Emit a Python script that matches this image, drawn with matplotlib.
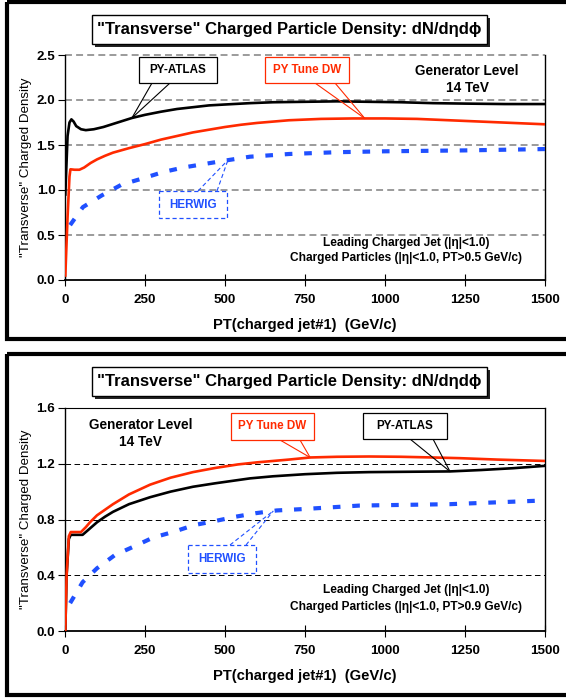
import numpy as np
import matplotlib
matplotlib.use("Agg")
import matplotlib.pyplot as plt
from matplotlib.patches import Rectangle
from matplotlib.lines import Line2D
import matplotlib.transforms as mtrans

plt.rcParams['font.family'] = ['Liberation Sans', 'DejaVu Sans']
plt.rcParams['lines.scale_dashes'] = False

W, H = 566, 698

# ---------------- data ----------------
x_ticks = [0, 250, 500, 750, 1000, 1250, 1500]

top_atlas_x = [1, 8, 14, 20, 27, 35, 50, 65, 90, 120, 160, 209, 250, 300, 350, 400, 450, 500, 578, 650,
               750, 850, 950, 1050, 1150, 1250, 1375, 1500]
top_atlas_y = [0.95, 1.6, 1.75, 1.785, 1.76, 1.71, 1.675, 1.665, 1.675, 1.70, 1.745, 1.80, 1.835, 1.87, 1.90,
               1.92, 1.94, 1.95, 1.965, 1.975, 1.98, 1.985, 1.98, 1.975, 1.965, 1.96, 1.955, 1.955]
top_dw_x = [1, 8, 14, 17, 30, 45, 60, 80, 100, 125, 150, 200, 250, 300, 350, 400, 450, 500, 550, 600, 700,
            800, 900, 1000, 1100, 1200, 1300, 1400, 1500]
top_dw_y = [0.05, 0.7, 1.15, 1.23, 1.225, 1.225, 1.25, 1.30, 1.34, 1.38, 1.415, 1.465, 1.51, 1.56, 1.60, 1.64,
            1.67, 1.70, 1.725, 1.745, 1.775, 1.79, 1.795, 1.795, 1.79, 1.775, 1.76, 1.745, 1.73]
top_hw_x = [16, 56, 115, 177, 244, 307, 370, 437, 506, 578, 700, 850, 1000, 1250, 1500]
top_hw_y = [0.61, 0.81, 0.94, 1.06, 1.13, 1.20, 1.25, 1.29, 1.33, 1.37, 1.40, 1.42, 1.43, 1.44, 1.455]

bot_atlas_x = [1, 5, 12, 18, 35, 55, 70, 80, 100, 125, 150, 200, 266, 330, 400, 470, 578, 650, 750, 850,
               950, 1050, 1203, 1300, 1400, 1500]
bot_atlas_y = [0.0, 0.4, 0.66, 0.69, 0.69, 0.69, 0.72, 0.74, 0.78, 0.82, 0.855, 0.91, 0.96, 1.00, 1.035,
               1.06, 1.095, 1.11, 1.125, 1.135, 1.14, 1.142, 1.145, 1.155, 1.168, 1.185]
bot_dw_x = [1, 5, 12, 18, 35, 50, 65, 78, 100, 125, 150, 200, 266, 330, 400, 470, 540, 600, 700, 766, 850,
            950, 1050, 1150, 1234, 1350, 1500]
bot_dw_y = [0.0, 0.4, 0.68, 0.71, 0.71, 0.71, 0.745, 0.78, 0.83, 0.87, 0.91, 0.98, 1.05, 1.10, 1.14, 1.17,
            1.195, 1.21, 1.23, 1.245, 1.25, 1.252, 1.25, 1.245, 1.24, 1.23, 1.22]
bot_hw_x = [16, 55, 100, 156, 219, 275, 337, 404, 471, 533, 595, 662, 745, 921, 1203, 1480]
bot_hw_y = [0.20, 0.35, 0.45, 0.545, 0.61, 0.67, 0.71, 0.76, 0.79, 0.82, 0.845, 0.865, 0.875, 0.90, 0.91, 0.935]

title_text = '"Transverse" Charged Particle Density: dN/d\u03b7d\u03d5'
xlabel_text = 'PT(charged jet#1)  (GeV/c)'
ylabel_text = '"Transverse" Charged Density'
top_note = ['Leading Charged Jet (|\u03b7|<1.0)', 'Charged Particles (|\u03b7|<1.0, PT>0.5 GeV/c)']
bot_note = ['Leading Charged Jet (|\u03b7|<1.0)', 'Charged Particles (|\u03b7|<1.0, PT>0.9 GeV/c)']

BLACK = '#000000'
RED = '#ff2a00'
BLUE = '#2050ff'

fig = plt.figure(figsize=(W / 100, H / 100), dpi=100)
PX = mtrans.Affine2D().scale(1 / W, -1 / H).translate(0, 1) + fig.transFigure


def axes_px(l, t, r, b):
    return fig.add_axes([l / W, 1 - b / H, (r - l) / W, (b - t) / H])


def to_px(ax, x, y):
    d = ax.transData.transform((x, y))
    return d[0], H - d[1]


def panel(top, bottom, left=7):
    fig.patches.append(Rectangle((left, top), W + 20 - left, bottom - top, transform=PX,
                                 fill=False, ec='black', lw=3.0, zorder=0))


def title_box(l, t, r, b, text):
    fig.patches.append(Rectangle((l + 3, t + 3), r - l, b - t, transform=PX,
                                 fc='#222222', ec='none', zorder=5))
    fig.patches.append(Rectangle((l, t), r - l, b - t, transform=PX,
                                 fc='white', ec='black', lw=1.0, zorder=6))
    fig.text((l + r) / 2 / W, 1 - (t + b) / 2 / H, text, ha='center', va='center',
             fontsize=12.0, fontweight='bold', zorder=7)


def callout(ax, box, anchors, anchor_y, tx, xs, ys, text, color, dashed=False):
    l, t, r, b = box
    px, py = to_px(ax, tx, np.interp(tx, xs, ys))
    ls = (0, (3, 2)) if dashed else '-'
    for axx in anchors:
        fig.lines.append(Line2D([axx, px], [anchor_y, py], transform=PX, color=color,
                                lw=0.8, ls=ls, zorder=8))
    fig.patches.append(Rectangle((l, t), r - l, b - t, transform=PX, fc='white', ec=color,
                                 lw=0.9, ls=ls, zorder=9))
    fig.text((l + r) / 2 / W, 1 - (t + b) / 2 / H, text, ha='center', va='center',
             fontsize=8.4, fontweight='bold', color=color, zorder=10)


def style_axes(ax, ymax, yticks, grid_color, grid_lw, grid_dash, top_spine):
    ax.set_xlim(0, 1500)
    ax.set_ylim(0, ymax)
    ax.set_xticks(x_ticks)
    ax.set_yticks(yticks)
    ax.set_yticklabels(['%.1f' % v for v in yticks])
    for v in yticks[1:]:
        ax.axhline(v, color=grid_color, lw=grid_lw, dashes=grid_dash, zorder=1, clip_on=False)
    for lab in ax.get_xticklabels() + ax.get_yticklabels():
        lab.set_fontweight('bold')
        lab.set_fontsize(9.6)
    ax.tick_params(axis='x', direction='inout', length=8, width=0.8, pad=6)
    ax.tick_params(axis='y', direction='out', length=5, width=0.8, pad=2)
    for s in ['left', 'right', 'bottom']:
        ax.spines[s].set_linewidth(1.0)
    ax.spines['bottom'].set_linewidth(1.3)
    ax.spines['top'].set_visible(top_spine)
    ax.set_xlabel(xlabel_text, fontsize=10.6, fontweight='bold', labelpad=9)
    ax.set_ylabel(ylabel_text, fontsize=9.6, labelpad=3)
    ax.patch.set_alpha(0)


# ---------------- panels ----------------
panel(2, 339)
panel(354, 695)

# top chart
ax1 = axes_px(65, 55, 545, 280)
style_axes(ax1, 2.5, [0.0, 0.5, 1.0, 1.5, 2.0, 2.5], '#808080', 1.1, (5, 3), False)
ax1.plot(top_hw_x, top_hw_y, color=BLUE, lw=3.0, dashes=(5.5, 8.5), solid_capstyle='butt', zorder=3)
ax1.plot(top_atlas_x, top_atlas_y, color=BLACK, lw=1.9, zorder=4)
ax1.plot(top_dw_x, top_dw_y, color=RED, lw=1.9, zorder=4)
ax1.text(0.838, 0.89, 'Generator Level\n14 TeV', transform=ax1.transAxes, ha='center', va='center',
         fontsize=9.8, fontweight='bold', linespacing=1.3)
ax1.text(0.71, 0.165, top_note[0], transform=ax1.transAxes, ha='center', va='center', fontsize=8.6, fontweight='bold')
ax1.text(0.71, 0.097, top_note[1], transform=ax1.transAxes, ha='center', va='center', fontsize=8.6, fontweight='bold')

# bottom chart
ax2 = axes_px(65, 408, 545, 631)
style_axes(ax2, 1.6, [0.0, 0.4, 0.8, 1.2, 1.6], '#000000', 0.7, (4, 2.5), True)
ax2.plot(bot_hw_x, bot_hw_y, color=BLUE, lw=3.0, dashes=(5.5, 8.5), solid_capstyle='butt', zorder=3)
ax2.plot(bot_atlas_x, bot_atlas_y, color=BLACK, lw=1.9, zorder=4)
ax2.plot(bot_dw_x, bot_dw_y, color=RED, lw=1.9, zorder=4)
ax2.text(0.158, 0.885, 'Generator Level\n14 TeV', transform=ax2.transAxes, ha='center', va='center',
         fontsize=9.8, fontweight='bold', linespacing=1.3)
ax2.text(0.71, 0.185, bot_note[0], transform=ax2.transAxes, ha='center', va='center', fontsize=8.6, fontweight='bold')
ax2.text(0.71, 0.108, bot_note[1], transform=ax2.transAxes, ha='center', va='center', fontsize=8.6, fontweight='bold')

# titles
title_box(92, 15, 487, 44, title_text)
title_box(92, 367, 487, 396, title_text)

# callouts
callout(ax1, (139, 57, 217, 83), [152, 170], 83, 209, top_atlas_x, top_atlas_y, 'PY-ATLAS', BLACK)
callout(ax1, (265, 57, 349, 83), [315, 335], 83, 937, top_dw_x, top_dw_y, 'PY Tune DW', RED)
callout(ax1, (159, 191, 227, 218), [198, 217], 191, 509, top_hw_x, top_hw_y, 'HERWIG', BLUE, dashed=True)
callout(ax2, (231, 413, 314, 440), [280, 300], 440, 766, bot_dw_x, bot_dw_y, 'PY Tune DW', RED)
callout(ax2, (363, 413, 447, 439), [410, 433], 439, 1203, bot_atlas_x, bot_atlas_y, 'PY-ATLAS', BLACK)
callout(ax2, (188, 545, 256, 573), [230, 246], 545, 651, bot_hw_x, bot_hw_y, 'HERWIG', BLUE, dashed=True)

fig.savefig('out.png', dpi=100)
